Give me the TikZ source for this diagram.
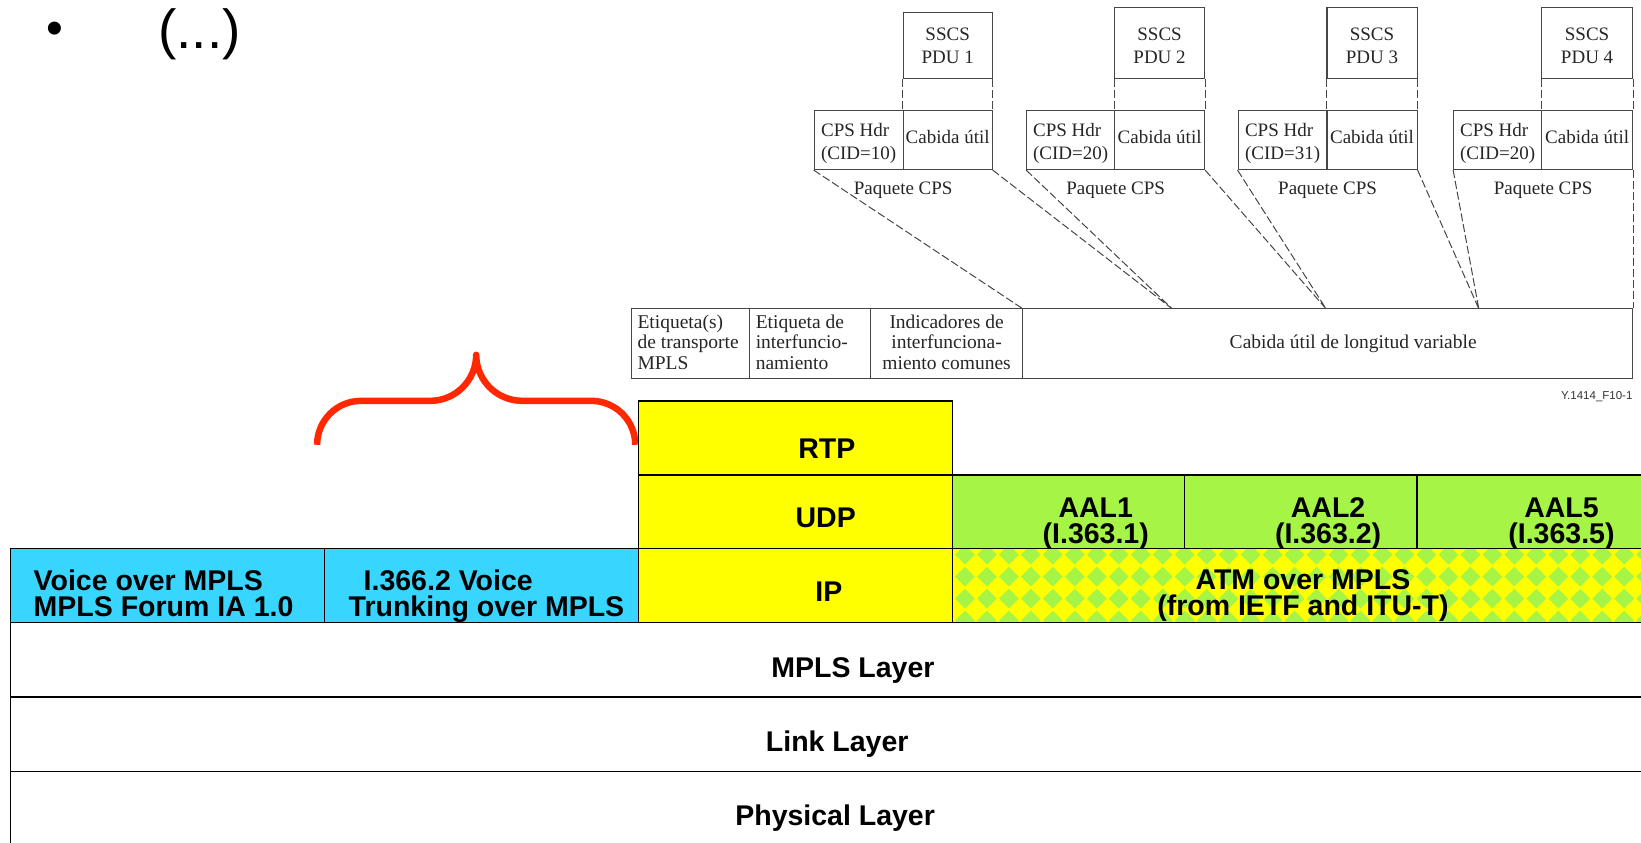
\documentclass[tikz,border=0pt]{standalone}
\usepackage{fontspec}
\setmainfont{Liberation Serif}
\setsansfont{Liberation Sans}
\usetikzlibrary{fit}
\definecolor{voiceblue}{RGB}{56,214,255}
\definecolor{ipyellow}{RGB}{255,255,0}
\definecolor{aalgreen}{RGB}{166,245,70}
\definecolor{bracered}{RGB}{255,40,0}
\definecolor{itugray}{RGB}{70,70,70}
\begin{document}
\begin{tikzpicture}[x=1.0466pt,y=-1.0466pt,
  layer/.style={draw=black,line width=1.5pt},
  layertext/.style={font=\sffamily\bfseries\fontsize{28.5}{26}\selectfont,anchor=base,inner sep=0pt},
  itubox/.style={draw=itugray,line width=1.1pt,inner sep=0pt},
  itutext/.style={inner sep=0pt,anchor=base,align=center,text=black!85,font=\fontsize{19}{23}\selectfont},
  bartext/.style={font=\fontsize{19.5}{20.5}\selectfont},
  itudash/.style={draw=itugray,line width=1pt,dash pattern=on 8pt off 3pt}]
\useasboundingbox (0,0) rectangle (1568,805);
\clip (0,0) rectangle (1568,805);

% slide text
\node[font=\sffamily\fontsize{48}{48}\selectfont,inner sep=0pt] (bullet) at (52.5,32) {•};
\node[font=\sffamily\fontsize{55}{55}\selectfont,anchor=base west,inner sep=0pt] (more) at (151,46) {(...)};

% ITU-T figure: SSCS PDUs and CPS packets
\foreach \k/\hx/\px/\qx/\ty/\cid in {1/778/863/948/12/10,2/981/1065/1151/7/20,
    3/1183/1268/1354/7/31,4/1389/1473/1560/7/20}{
  \node[itubox,fit={(\px,\ty)(\qx,75)}] (pdu\k) {};
  \node[itubox,fit={(\hx,106)(\px,162)}] (hdr\k) {};
  \node[itubox,fit={(\px,106)(\qx,162)}] (cab\k) {};
  \node[itutext] (pdutxt\k) at ({(\px+\qx)/2},61) {SSCS\\PDU \k};
  \node[itutext,align=left] (hdrtxt\k) at ({(\hx+\px)/2},152) {CPS Hdr\\(CID=\cid)};
  \node[itutext] (cabtxt\k) at ({(\px+\qx)/2},137) {Cabida útil};
  \draw[itudash] (pdu\k.south west) -- (cab\k.north west)
                 (pdu\k.south east) -- (cab\k.north east);
  \node[itutext] (pkt\k) at ({(\hx+\qx)/2},186) {Paquete CPS};
}

% MPLS frame
\node[itubox,fit={(603,295)(716,362)}] (tag) {};
\node[itubox,fit={(716,295)(832,362)}] (iwlabel) {};
\node[itubox,fit={(832,295)(977,362)}] (iwflags) {};
\node[itubox,fit={(977,295)(1560,362)}] (pay) {};
\node[itutext,bartext,align=left,anchor=base west] (tagtxt) at (609,353) {Etiqueta(s)\\de transporte\\MPLS};
\node[itutext,bartext,align=left,anchor=base west] (iwtxt) at (722,353) {Etiqueta de\\interfuncio-\\namiento};
\node[itutext,bartext] (flagstxt) at (904.5,353) {Indicadores de\\interfunciona-\\miento comunes};
\node[itutext,bartext] (paytxt) at (1293,333) {Cabida útil de longitud variable};
\node[font=\sffamily\fontsize{11.5}{12}\selectfont,anchor=base east,inner sep=0pt,text=black!80] (figref) at (1560,382) {Y.1414\_F10-1};

\coordinate (m1) at (1120,295);
\coordinate (m2) at (1267,295);
\coordinate (m3) at (1413,295);
\draw[itudash] (hdr1.south west) -- (pay.north west);
\draw[itudash] (cab1.south east) -- (m1) (hdr2.south west) -- (m1);
\draw[itudash] (cab2.south east) -- (m2) (hdr3.south west) -- (m2);
\draw[itudash] (cab3.south east) -- (m3) (hdr4.south west) -- (m3);
\draw[itudash] (cab4.south east) -- (pay.north east);

% brace
\draw[bracered,line width=6.5pt,line join=round] (303,425) .. controls (303,401.8) and (321.8,383) .. (345,383)
  -- (411,383) .. controls (435.3,383) and (455,363.3) .. (455,339)
  .. controls (455,363.3) and (474.7,383) .. (499,383)
  -- (565,383) .. controls (588.2,383) and (607,401.8) .. (607,425);

% lower layers
\draw[layer] (10,737) rectangle (1640,830);
\draw[layer] (10,666) rectangle (1640,737);
\draw[layer] (10,595) rectangle (1640,666);
\node[layertext] (phys) at (798,789) {Physical Layer};
\node[layertext] (link) at (800,718) {Link Layer};
\node[layertext] (mpls) at (815,647) {MPLS Layer};

% voice
\draw[layer,fill=voiceblue] (10,524) rectangle (310,595);
\draw[layer,fill=voiceblue] (310,524) rectangle (610,595);
\node[layertext,anchor=base west,align=left] (vompls) at (32,589) {Voice over MPLS\\MPLS Forum IA 1.0};
\node[layertext,anchor=base west,align=left] (trunk) at (333,589) {\hspace*{15pt}I.366.2 Voice\\Trunking over MPLS};

% IP stack
\draw[layer,fill=ipyellow] (610,383) rectangle (910,454);
\draw[layer,fill=ipyellow] (610,454) rectangle (910,524);
\draw[layer,fill=ipyellow] (610,524) rectangle (910,595);
\node[layertext] (rtp) at (790,438) {RTP};
\node[layertext] (udp) at (789,504) {UDP};
\node[layertext] (ip) at (792,575) {IP};

% AAL
\draw[layer,fill=aalgreen] (910,454) rectangle (1132,524);
\draw[layer,fill=aalgreen] (1132,454) rectangle (1354,524);
\draw[layer,fill=aalgreen] (1354,454) rectangle (1640,524);
\node[layertext,align=center] (aal1) at (1047,519) {AAL1\\(I.363.1)};
\node[layertext,align=center] (aal2) at (1269,519) {AAL2\\(I.363.2)};
\node[layertext,align=center] (aal5) at (1492,519) {AAL5\\(I.363.5)};

% ATM over MPLS
\fill[ipyellow] (910,524) rectangle (1640,595);
\begin{scope}
  \clip (910,524) rectangle (1640,595);
  \foreach \i in {0,...,34}
    \foreach \j in {0,...,3}
      \fill[aalgreen] ({922+21*\i},{530+21*\j}) +(-9.5,0) -- +(0,-9.5) -- +(9.5,0) -- +(0,9.5) -- cycle;
\end{scope}
\draw[layer] (910,524) rectangle (1640,595);
\node[layertext,align=center] (atm) at (1245,588) {ATM over MPLS\\(from IETF and ITU-T)};
\end{tikzpicture}
\end{document}
